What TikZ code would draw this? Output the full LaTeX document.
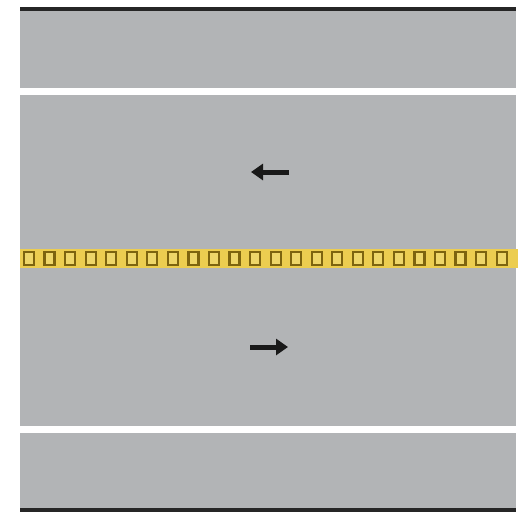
\documentclass[tikz,border=0pt]{standalone}
\usetikzlibrary{arrows.meta}
\definecolor{road}{RGB}{178,180,182}
\definecolor{band}{RGB}{236,205,80}
\definecolor{bandedge}{RGB}{125,100,15}
\definecolor{bandin}{RGB}{238,214,105}
\tikzset{
  roadarrow/.style={line width=5pt,-{Triangle[length=12pt,width=16pt]},black!90},
  stud/.style={draw=bandedge,line width=2.2pt,fill=bandin}
}
\begin{document}
\begin{tikzpicture}[x=1pt,y=-1pt]
\useasboundingbox (0,0) rectangle (525,512);
\fill[white] (0,0) rectangle (525,512);
% road surface
\fill[road] (20,9) rectangle (516,510);
% edge lines
\fill[black!85] (20,7) rectangle (516,11);
\fill[black!85] (20,508) rectangle (516,512);
\fill[white] (20,88) rectangle (518,95);
\fill[white] (20,426) rectangle (518,433);
% yellow centre band
\fill[band] (20,249) rectangle (518,268);
\foreach \i in {0,...,23}{
  \draw[stud] ({29+\i*20.55-5},252) rectangle ({29+\i*20.55+5},265);
}
% lane arrows
\coordinate (la1) at (289,172);
\coordinate (la2) at (251,172);
\coordinate (ra1) at (250,347);
\coordinate (ra2) at (288,347);
\draw[roadarrow] (la1) -- (la2);
\draw[roadarrow] (ra1) -- (ra2);
\end{tikzpicture}
\end{document}
